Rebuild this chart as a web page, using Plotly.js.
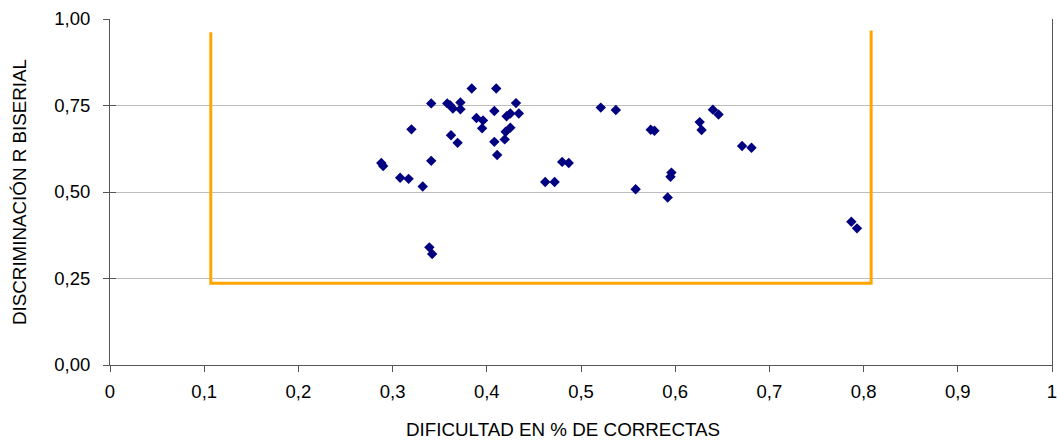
<!DOCTYPE html>
<html>
<head>
<meta charset="utf-8">
<script src="https://cdn.plot.ly/plotly-3.0.1.min.js"></script>
<style>html,body{margin:0;padding:0;background:#fff;}#chart{width:1057px;height:440px;}</style>
</head>
<body>
<div id="chart"></div>
<script>
// Item difficulty (proportion correct) and biserial discrimination
const dificultad = [
  0.384, 0.410, 0.341, 0.358, 0.361, 0.364, 0.372, 0.372, 0.431, 0.408,
  0.389, 0.396, 0.421, 0.425, 0.434, 0.320, 0.395, 0.425, 0.420, 0.362,
  0.369, 0.408, 0.419, 0.411, 0.288, 0.290, 0.341, 0.308, 0.317, 0.332,
  0.462, 0.339, 0.342,
  0.521, 0.537, 0.472, 0.480, 0.487, 0.574, 0.578, 0.558, 0.596, 0.595,
  0.592, 0.626, 0.628, 0.640, 0.646, 0.671, 0.681, 0.787, 0.793
];
const discriminacion = [
  0.799, 0.799, 0.756, 0.756, 0.751, 0.741, 0.759, 0.739, 0.757, 0.734,
  0.714, 0.707, 0.719, 0.727, 0.727, 0.681, 0.684, 0.686, 0.674, 0.664,
  0.642, 0.645, 0.652, 0.607, 0.584, 0.575, 0.590, 0.541, 0.538, 0.516,
  0.529, 0.340, 0.321,
  0.744, 0.737, 0.529, 0.587, 0.584, 0.680, 0.677, 0.508, 0.556, 0.544,
  0.484, 0.702, 0.679, 0.738, 0.724, 0.633, 0.628, 0.414, 0.395
];
// Orange bracket (acceptance region)
const limiteX = [0.107, 0.107, 0.808, 0.808];
const limiteY = [0.962, 0.236, 0.236, 0.967];

const xTicks = [0, 0.1, 0.2, 0.3, 0.4, 0.5, 0.6, 0.7, 0.8, 0.9, 1];
const yTicks = [0, 0.25, 0.5, 0.75, 1];
const xTitle = 'DIFICULTAD EN % DE CORRECTAS';
const yTitle = 'DISCRIMINACIÓN R BISERIAL';

const fam = 'Liberation Sans, Arial, sans-serif';
const tickFont = {family: fam, size: 18.5, color: '#000'};
const titleFont = {family: fam, size: 18.8, color: '#000'};

const traces = [
  {
    x: limiteX, y: limiteY, type: 'scatter', mode: 'lines',
    line: {color: '#FFA500', width: 3}, hoverinfo: 'skip', showlegend: false
  },
  {
    x: dificultad, y: discriminacion, type: 'scatter', mode: 'markers',
    marker: {symbol: 'diamond', size: 8, color: '#000080', line: {width: 0}},
    showlegend: false
  },
  {
    x: [0], y: [0], type: 'scatter', mode: 'markers', yaxis: 'y2',
    marker: {opacity: 0}, hoverinfo: 'skip', showlegend: false
  }
];

const layout = {
  width: 1057, height: 440,
  margin: {l: 110, r: 5, t: 19, b: 75},
  paper_bgcolor: '#fff', plot_bgcolor: '#fff',
  separators: ',.',
  font: {family: fam, size: 14, color: '#000'},
  showlegend: false,
  xaxis: {
    range: [0, 1], tickvals: xTicks, ticks: 'outside', ticklen: 6, tickcolor: '#555',
    ticklabelstandoff: 4, ticklabeloverflow: 'allow',
    showgrid: false, zeroline: false, showline: true, linecolor: '#555', linewidth: 1,
    tickfont: tickFont
  },
  yaxis: {
    range: [0, 1], tickvals: yTicks, tickformat: '.2f', ticks: 'outside', ticklen: 6, tickcolor: '#555',
    ticklabelstandoff: 9, ticklabeloverflow: 'allow',
    showgrid: true, gridcolor: '#bdbdbd', gridwidth: 1,
    zeroline: false, showline: true, linecolor: '#555', linewidth: 1, mirror: true,
    tickfont: tickFont,
    title: {text: yTitle, font: titleFont, standoff: 22}
  },
  yaxis2: {
    overlaying: 'y', range: [0, 1], tickvals: yTicks, ticks: 'inside', ticklen: 6, tickcolor: '#555',
    showticklabels: false, showgrid: false, zeroline: false, showline: false, side: 'left'
  },
  annotations: [{
    text: xTitle, xref: 'paper', yref: 'paper', x: 0.481, y: -0.185,
    xanchor: 'center', yanchor: 'middle', showarrow: false, font: titleFont
  }]
};

Plotly.newPlot('chart', traces, layout, {staticPlot: true, displayModeBar: false});
</script>
</body>
</html>
